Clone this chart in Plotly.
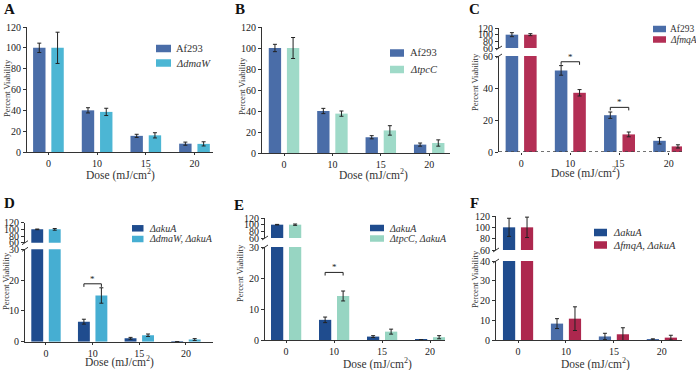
import plotly.graph_objects as go

W, H = 696, 370
FONT = "Liberation Serif, Times New Roman, serif"

doses = ["0", "10", "15", "20"]

# ---------------- data ----------------
# Panel A
a_names = ["Af293", "<i>ΔdmaW</i>"]
a_af293 = [100, 40, 15.5, 8]
a_af293_err = [4.5, 2.5, 1.5, 1.5]
a_dmaw = [100, 38.5, 16, 7.8]
a_dmaw_err = [15, 3.5, 2.5, 2]

# Panel B
b_names = ["Af293", "<i>ΔtpcC</i>"]
b_af293 = [100, 40, 15, 8]
b_af293_err = [3.5, 2.5, 1.5, 1.5]
b_tpcc = [100, 37.5, 21.5, 9.5]
b_tpcc_err = [10, 2.5, 4.5, 3]

# Panel C
c_names = ["Af293", "<i>ΔfmqA</i>"]
c_af293 = [100, 51, 23, 7]
c_af293_err = [6, 3, 2, 2]
c_fmqa = [100, 37, 11, 3.5]
c_fmqa_err = [3, 2, 1.5, 1]

# Panel D
d_names = ["<i>ΔakuA</i>", "<i>ΔdmaW, ΔakuA</i>"]
d_akua = [100, 6.5, 1.1, 0.05]
d_akua_err = [1, 0.8, 0.3, 0]
d_dmaw = [100, 15, 2.1, 0.7]
d_dmaw_err = [2.5, 2.5, 0.4, 0.3]

# Panel E
e_names = ["<i>ΔakuA</i>", "<i>ΔtpcC, ΔakuA</i>"]
e_akua = [100, 6.5, 1.1, 0.05]
e_akua_err = [0.8, 0.9, 0.3, 0]
e_tpcc = [100, 14.2, 2.7, 0.9]
e_tpcc_err = [2, 1.6, 0.8, 0.5]

# Panel F
f_names = ["<i>ΔakuA</i>", "<i>ΔfmqA, ΔakuA</i>"]
f_akua = [100, 8.3, 1.8, 0.3]
f_akua_err = [16, 2.5, 1.6, 0.3]
f_fmqa = [100, 10.8, 2.9, 1.2]
f_fmqa_err = [18, 6, 3.3, 1.2]

# significance markers: (dose index, bracket height in data units)
c_sig = [(1, 56.4), (2, 27.9)]
d_sig = [(1, 18.8)]
e_sig = [(1, 21.8)]

# ---------------- colours ----------------
AF = "#4a6da8"
DMAW = "#4cb6d4"
TPCC = "#9fdac8"
FMQA = "#b32f55"
AKUA = "#1f4c8e"
DMAW2 = "#46aed2"
TPCC2 = "#97d5c2"
FMQA2 = "#ad274e"


def dom_x(l, r):
    return [l / W, r / W]


def dom_y(t, b):
    return [1 - b / H, 1 - t / H]


def px(x):
    return x / W


def py(y):
    return 1 - y / H


panels = [
    dict(letter="A", names=a_names, vals=[a_af293, a_dmaw], errs=[a_af293_err, a_dmaw_err],
         colors=[[AF] * 4, [DMAW] * 4], x=(27, 213), xr=(-0.44, 3.38),
         lower=dict(px=(27, 152), r=(0, 120), t=[0, 20, 40, 60, 80, 100, 120]), upper=None,
         ytitle=(7, 88), xtitle=(120, 174), lpos=(9, 9),
         legend=dict(sw=(156, 171), rows=(48.5, 63), h=7.5, tx=174, fs=10.5),
         sig=[], drop=0, dotted=False),
    dict(letter="B", names=b_names, vals=[b_af293, b_tpcc], errs=[b_af293_err, b_tpcc_err],
         colors=[[AF] * 4, [TPCC] * 4], x=(262, 450), xr=(-0.455, 3.43),
         lower=dict(px=(27, 153), r=(0, 120), t=[0, 20, 40, 60, 80, 100, 120]), upper=None,
         ytitle=(242, 86), xtitle=(373, 174), lpos=(240, 9),
         legend=dict(sw=(390, 404), rows=(53, 69.5), h=7.5, tx=408, fs=10.5),
         sig=[], drop=0, dotted=False),
    dict(letter="C", names=c_names, vals=[c_af293, c_fmqa], errs=[c_af293_err, c_fmqa_err],
         colors=[[AF] * 4, [FMQA] * 4], x=(499, 682), xr=(-0.45, 3.27),
         lower=dict(px=(56, 152), r=(0, 60), t=[0, 20, 40, 60]),
         upper=dict(px=(28, 48), r=(60, 120), t=[60, 80, 100, 120]),
         ytitle=(475, 82), xtitle=(585, 172), lpos=(474, 9),
         legend=dict(sw=(653, 666), rows=(29, 39.5), h=6.5, tx=668, fs=9.5),
         sig=c_sig, drop=1.9, dotted=True),
    dict(letter="D", names=d_names, vals=[d_akua, d_dmaw], errs=[d_akua_err, d_dmaw_err],
         colors=[[AKUA] * 4, [DMAW2] * 4], x=(25, 213), xr=(-0.45, 3.58),
         lower=dict(px=(249.3, 341.7), r=(0, 30), t=[0, 10, 20, 30]),
         upper=dict(px=(222.7, 242.7), r=(60, 120), t=[60, 80, 100, 120]),
         ytitle=(6, 281), xtitle=(119, 361.5), lpos=(9, 203),
         legend=dict(sw=(132, 143.5), rows=(228.3, 239), h=6.5, tx=146.5, fs=10),
         sig=d_sig, drop=1.0, dotted=False),
    dict(letter="E", names=e_names, vals=[e_akua, e_tpcc], errs=[e_akua_err, e_tpcc_err],
         colors=[[AKUA] * 4, [TPCC2] * 4], x=(265, 445), xr=(-0.44, 3.31),
         lower=dict(px=(247, 340), r=(0, 30), t=[0, 10, 20, 30]),
         upper=dict(px=(218, 238), r=(60, 120), t=[60, 80, 100, 120]),
         ytitle=(240, 273), xtitle=(377, 363.5), lpos=(239, 205),
         legend=dict(sw=(370, 384), rows=(228, 238.5), h=6.5, tx=387.5, fs=10),
         sig=e_sig, drop=1.0, dotted=False),
    dict(letter="F", names=f_names, vals=[f_akua, f_fmqa], errs=[f_akua_err, f_fmqa_err],
         colors=[[AKUA, AF, AF, AF], [FMQA2] * 4], x=(496, 682), xr=(-0.46, 3.42),
         lower=dict(px=(261, 340), r=(0, 40), t=[0, 10, 20, 30, 40]),
         upper=dict(px=(216, 250), r=(60, 120), t=[60, 80, 100, 120]),
         ytitle=(475, 279), xtitle=(595, 363.5), lpos=(474, 203),
         legend=dict(sw=(594, 607), rows=(232.5, 245), h=7.5, tx=611, fs=10.5),
         sig=[], drop=0, dotted=False),
]

fig = go.Figure()
layout = {}
shapes = []
annotations = []
AXC = "#333333"
tickfont = dict(family=FONT, size=10, color="#222222")

n = 0
for p in panels:
    parts = [("lower", p["lower"])]
    if p["upper"] is not None:
        parts.append(("upper", p["upper"]))
    lower_ids = None
    for kind, part in parts:
        n += 1
        xid = "x" if n == 1 else f"x{n}"
        yid = "y" if n == 1 else f"y{n}"
        xkey = "xaxis" if n == 1 else f"xaxis{n}"
        ykey = "yaxis" if n == 1 else f"yaxis{n}"
        if kind == "lower":
            lower_ids = (xid, yid)
        is_lower = kind == "lower"
        layout[xkey] = dict(
            domain=dom_x(*p["x"]), anchor=yid, type="category",
            categoryorder="array", categoryarray=doses, automargin=False,
            range=list(p["xr"]), visible=is_lower,
            showline=is_lower and not p["dotted"], linecolor=AXC, linewidth=1,
            ticks="outside" if is_lower else "", ticklen=2, tickwidth=1, tickcolor=AXC,
            tickfont=tickfont, showgrid=False, zeroline=False, fixedrange=True,
        )
        layout[ykey] = dict(
            domain=dom_y(*part["px"]), anchor=xid, range=list(part["r"]), automargin=False,
            tickvals=part["t"], showline=True, linecolor=AXC, linewidth=1,
            ticks="outside", ticklen=3, tickwidth=1, tickcolor=AXC,
            tickfont=tickfont, showgrid=False, zeroline=False, fixedrange=True,
        )
        for name, vals, errs, cols in zip(p["names"], p["vals"], p["errs"], p["colors"]):
            fig.add_trace(go.Bar(
                x=doses, y=vals, name=name, xaxis=xid, yaxis=yid,
                marker=dict(color=cols, line=dict(width=0)),
                error_y=dict(type="data", array=errs, color="#222222",
                             thickness=1, width=2),
                showlegend=False,
            ))

    lx, ly = lower_ids
    # dotted baseline (panel C)
    if p["dotted"]:
        shapes.append(dict(type="line", xref=f"{lx} domain", yref=ly, x0=0, x1=1, y0=0, y1=0,
                           line=dict(color="#444444", width=1.6, dash="dot")))
    # axis-break marks
    if p["upper"] is not None:
        ax = p["x"][0]
        for yb in (p["upper"]["px"][1], p["lower"]["px"][0]):
            shapes.append(dict(type="line", xref="paper", yref="paper",
                               x0=px(ax - 3), x1=px(ax + 3), y0=py(yb + 2), y1=py(yb - 2),
                               line=dict(color=AXC, width=1)))
    # significance brackets
    half = (1 - 0.25) / 4
    for idx, yv in p["sig"]:
        x0, x1 = idx - half, idx + half
        shapes.append(dict(type="line", xref=lx, yref=ly, x0=x0, x1=x1, y0=yv, y1=yv,
                           line=dict(color="#222222", width=1)))
        for xe in (x0, x1):
            shapes.append(dict(type="line", xref=lx, yref=ly, x0=xe, x1=xe,
                               y0=yv, y1=yv - p["drop"], line=dict(color="#222222", width=1)))
        annotations.append(dict(text="*", xref=lx, yref=ly, x=idx, y=yv, yshift=5,
                                showarrow=False, font=dict(family=FONT, size=9, color="#222222")))
    # legend (manual)
    lg = p["legend"]
    for name, cols, ry in zip(p["names"], p["colors"], lg["rows"]):
        shapes.append(dict(type="rect", xref="paper", yref="paper",
                           x0=px(lg["sw"][0]), x1=px(lg["sw"][1]),
                           y0=py(ry + lg["h"] / 2), y1=py(ry - lg["h"] / 2),
                           fillcolor=cols[0], line=dict(width=0)))
        annotations.append(dict(text=name, xref="paper", yref="paper", x=px(lg["tx"]), y=py(ry),
                                xanchor="left", yanchor="middle", showarrow=False,
                                font=dict(family=FONT, size=lg["fs"], color="#333333")))
    # titles
    annotations.append(dict(text="Percent Viability", xref="paper", yref="paper",
                            x=px(p["ytitle"][0]), y=py(p["ytitle"][1]), textangle=-90,
                            xanchor="center", yanchor="middle", showarrow=False,
                            font=dict(family=FONT, size=8.5, color="#333333")))
    annotations.append(dict(text="Dose (mJ/cm<sup>2</sup>)", xref="paper", yref="paper",
                            x=px(p["xtitle"][0]), y=py(p["xtitle"][1]),
                            xanchor="center", yanchor="middle", showarrow=False,
                            font=dict(family=FONT, size=11.5, color="#333333")))
    annotations.append(dict(text=f"<b>{p['letter']}</b>", xref="paper", yref="paper",
                            x=px(p["lpos"][0]), y=py(p["lpos"][1]),
                            xanchor="center", yanchor="middle", showarrow=False,
                            font=dict(family=FONT, size=15, color="#111111")))

fig.update_layout(
    template="none",
    width=W, height=H, margin=dict(l=0, r=0, t=0, b=0, pad=0, autoexpand=False),
    paper_bgcolor="white", plot_bgcolor="white",
    barmode="group", bargap=0.25, bargroupgap=0.32,
    showlegend=False, shapes=shapes, annotations=annotations,
    font=dict(family=FONT),
    **layout,
)

fig.write_html(
    "out.html",
    config={"displayModeBar": False},
    post_script="document.body.style.margin='0';document.body.style.overflow='hidden';",
)
